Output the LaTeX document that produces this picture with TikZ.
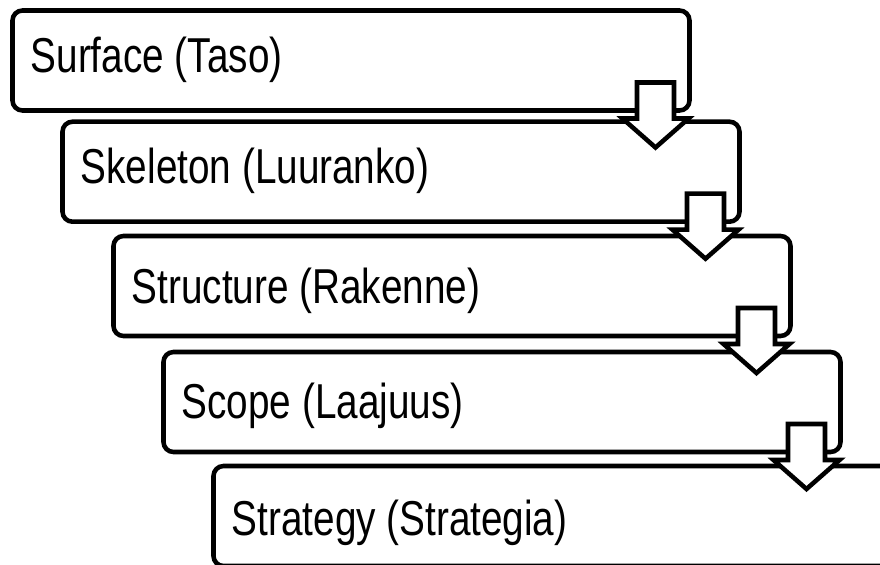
\documentclass[tikz,border=0pt]{standalone}
\usepackage{fontspec}
\setmainfont{Liberation Sans}[FakeStretch=0.79]
\usetikzlibrary{positioning}
\tikzset{
	layerbox/.style={draw=black, line width=3.4pt, rounded corners=7.5pt, fill=white,
		minimum width=507.75pt, minimum height=75pt, inner sep=0pt, outer sep=0pt, anchor=north west},
	layertext/.style={anchor=base west, inner sep=0pt, font=\fontsize{36.75}{44}\selectfont},
	downarrow/.style={draw=black, line width=3.4pt, fill=white}
}

\begin{document}
\begin{tikzpicture}[x=0.75pt, y=-0.75pt]
				\useasboundingbox (0,0) rectangle (880,564);
				\clip (0,0) rectangle (880,564);
				% the five layers
				\foreach \i/\x/\y/\base/\txt in {1/12.5/10.5/62/{Surface (Taso)}, 2/62.5/121.7/61.3/{Skeleton (Luuranko)},
					3/113.5/236/67/{Structure (Rakenne)}, 4/163.5/352/66/{Scope (Laajuus)}, 5/213.5/466/69/{Strategy (Strategia)}} {
					\node[layerbox] (box\i) at (\x,\y) {};
					\node[layertext] (label\i) at ([shift={(18,\base)}]box\i.north west) {\txt};
				}
				% block arrows from one layer to the next
				\foreach \i in {1,...,4} {
					\draw[downarrow] ([xshift=-25.5pt]box\i.south east) ++(-18.5,-28) -- ++(37,0) -- ++(0,36)
						-- ++(14.5,0) -- ++(-33,29) -- ++(-33,-29) -- ++(14.5,0) -- cycle;
				}
			\end{tikzpicture}
\end{document}
